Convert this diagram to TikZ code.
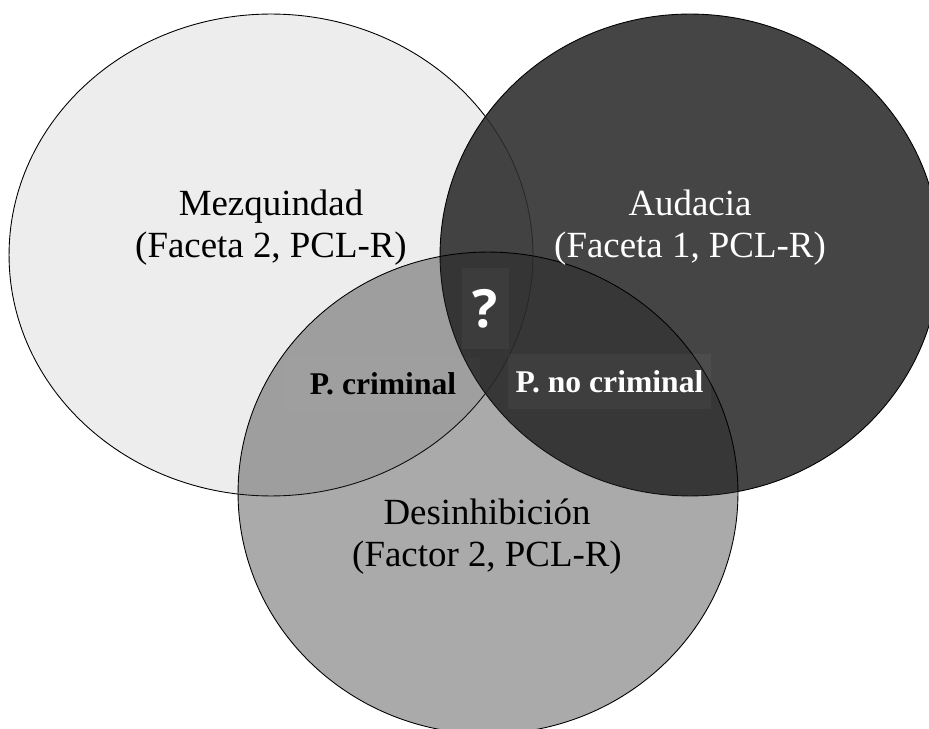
\documentclass[tikz,border=0pt]{standalone}
\usepackage{fontspec}
\setmainfont{Liberation Serif}
\newfontfamily\qmarkfont{Open Sans}
\usepackage{tikz}
\usetikzlibrary{shapes.geometric}
\definecolor{paleset}{RGB}{237,237,237}
\definecolor{darkset}{RGB}{46,46,46}
\definecolor{midset}{RGB}{35,35,35}

\begin{document}
\begin{tikzpicture}[x=0.02cm, y=-0.02cm,
    trait/.style={ellipse, draw=black, line width=0.5pt, inner sep=0pt,
                  minimum width=10cm, minimum height=9.64cm, fill=#1},
    traittext/.style={align=center, font=\fontsize{21}{24}\selectfont, text=#1},
    zone/.style={inner sep=0pt, fill=white, fill opacity=0.04, text opacity=1,
                 font=\fontsize{18}{20}\selectfont\bfseries, text=#1},
]
    \useasboundingbox (0,0) rectangle (929,729);
    \clip (0,0) rectangle (929,729);

    % the three traits
    \node[trait=paleset, minimum width=10.48cm] (mezquindad) at (271,255) {};
    \node[trait=darkset, fill opacity=0.89] (audacia) at (690,255) {};
    \node[trait=midset, fill opacity=0.387] (desinhibicion) at (488,493) {};

    \node[traittext=black] (mezqtext) at (271,228) {Mezquindad\\(Faceta 2, PCL-R)};
    \node[traittext=white] (audtext) at (690,228) {Audacia\\(Faceta 1, PCL-R)};
    \node[traittext=black] (destext) at (487,537) {Desinhibición\\(Factor 2, PCL-R)};

    % overlaps
    \node[zone=black, fill opacity=0.015, minimum width=3.9cm, minimum height=1.05cm] (criminal) at (383,384) {P. criminal};
    \node[zone=white, minimum width=4.06cm, minimum height=1.1cm] (nocriminal) at (609.5,381.5) {P. no criminal};
    \node[zone=white, minimum width=0.94cm, minimum height=1.62cm,
          font=\qmarkfont\fontsize{30}{32}\selectfont\bfseries] (unknown) at (485.5,308.5) {?};
\end{tikzpicture}
\end{document}
